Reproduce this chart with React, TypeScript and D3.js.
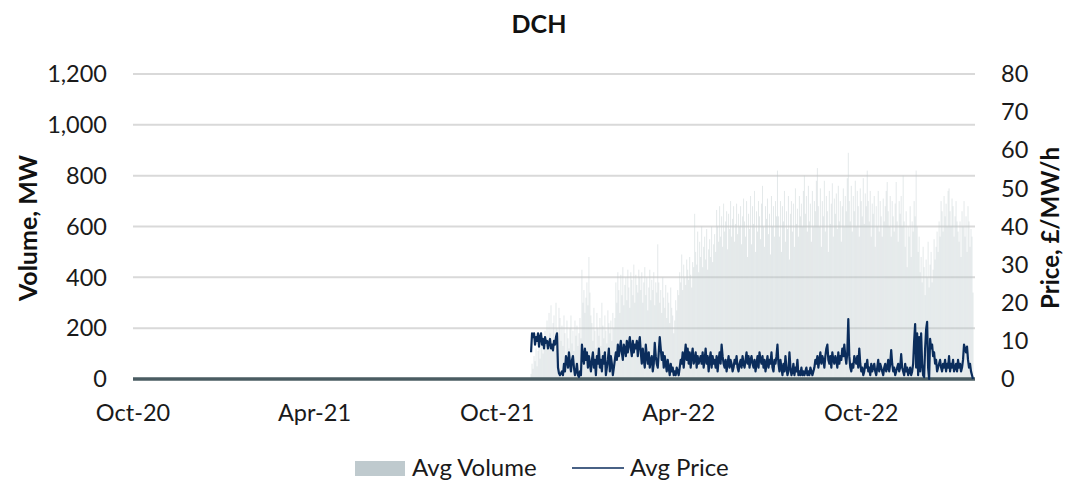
import React from "react";
import * as d3 from "d3";

const W = 1066;
const H = 482;

// daily series, first value is 4 Nov 2021
const seriesStart = new Date(2021, 10, 4);

const avgVolume = [
  20, 60, 40, 90, 70, 120, 50, 110, 150, 80, 130, 170, 100, 140, 190,
  160, 230, 120, 260, 180, 290, 140, 220, 250, 110, 300, 200, 170, 280, 240, 150,
  210, 130, 250, 180, 90, 230, 160, 120, 200, 250, 140, 190, 110, 230, 170, 210, 130, 180, 240, 160,
  430, 300, 350, 260, 320, 380, 290, 480, 340, 250,
  220, 150, 280, 190, 120, 260, 200, 170, 240, 130, 300, 210, 160, 250, 190, 140, 270, 220, 180, 230, 150, 260, 200, 240,
  380, 300, 420, 350, 260, 410, 330, 440, 290, 370, 400, 310, 430, 360, 280, 420, 390, 330, 450, 300, 410, 370, 340, 430, 400,
  350, 420, 300, 380, 440, 330, 400, 270, 360, 430, 310, 390, 350, 420, 290, 380, 340,
  530,
  380, 300, 350, 260, 400, 320, 280, 370, 240, 340, 300, 220, 360, 280, 250, 180, 230, 310, 270, 350, 330,
  420, 380, 490, 350, 450, 400, 370, 470, 430, 390, 480, 410, 360, 460, 440,
  650,
  500, 450, 580, 420, 540, 480, 600, 440, 520, 560, 470, 590, 430, 510, 550, 480, 600, 460, 530, 570, 500,
  665,
  600, 540, 680, 560, 640, 520, 690, 580, 620, 660, 510, 650, 590, 700, 560, 630, 680, 540, 610, 690, 570, 650, 600, 680, 530, 640, 710,
  620, 560, 700, 480, 650, 590, 720, 530, 680, 610, 740, 500, 660, 580, 700, 640, 550, 690, 760, 600, 520, 680, 630, 710, 570, 650, 490, 720, 600, 680, 560, 700, 640,
  820,
  640, 560, 700, 500, 680, 620, 740, 540, 660, 590, 720, 470, 650, 700, 580, 690, 520, 750, 610, 670, 560, 720, 640, 690, 600, 740,
  800,
  650, 720, 580, 760, 620, 690, 540, 740, 600, 700, 660, 780,
  830,
  680, 600, 750, 520, 700, 640, 780, 580, 720, 660, 500, 740, 610, 690, 770, 560, 710, 650, 730, 590, 760, 620, 700, 540, 680, 750, 600, 720, 660, 790,
  890,
  700, 620, 760, 580, 720, 660, 780, 600, 740, 680, 560, 750, 700, 640, 790, 610, 730, 680,
  820,
  700, 620, 740, 560, 690, 650, 720, 520, 680, 600, 740, 580, 700, 640, 560, 710, 620, 680, 740,
  775,
  660, 600, 720, 560, 700, 640, 580, 690, 775, 620, 540, 700, 650, 720, 600, 800,
  620, 520, 660, 440, 600, 560, 680, 480, 620, 580, 700, 640,
  820,
  600, 500, 560, 420, 480, 380, 520, 440, 330, 470, 400, 540, 360, 450, 500, 380, 430, 550, 470, 520, 580, 500,
  620, 560, 700, 660, 580, 720, 640, 690, 600, 740, 750, 660, 600, 710, 680, 560, 640, 700, 620, 580,
  540, 620, 480, 660, 600, 700, 560, 640, 500, 680, 620, 520, 590, 560, 340,
];

const avgPrice = [
  7, 12, 11, 12, 9, 11, 10, 12, 8.5, 11, 12, 9, 10.5, 8, 11, 9.5, 10, 8, 9.5, 10.5, 8, 9, 7.5, 10, 9, 11, 12,
  3, 1.5, 1, 1.5, 2, 1, 4, 2, 6, 5, 3, 7, 4, 2, 5, 6, 3, 1, 2, 4, 1, 0.5, 2, 1,
  9, 6, 4, 8, 5, 7, 3, 6, 4, 2, 5, 7, 3, 5, 1, 6, 4, 8, 3, 5, 2, 6, 4, 7, 1, 3, 5, 8, 2, 6, 4, 1, 3, 5,
  7, 5, 9, 6, 8, 10, 7, 5, 9, 8, 6, 10, 7, 9, 11, 8, 6, 10, 7, 9, 8, 10, 6, 9, 11,
  7, 4, 8, 5, 3, 9, 6, 4, 7, 3, 5, 6, 2, 4, 9.5, 6, 4, 3, 7, 11,
  8, 5, 7, 3, 6, 4, 2, 5, 3, 1, 4, 2, 3, 1, 2, 1, 3, 2, 1, 3,
  5, 4, 7, 3, 6, 9, 5, 8, 4, 7, 3, 6, 8, 4, 5, 7, 3, 6, 4, 5,
  6, 4, 7, 3, 5, 8, 4, 6, 2, 5, 7, 3, 6, 4, 5, 3, 6, 2, 5, 7, 4,
  9,
  6, 4, 3, 5, 2, 4, 6, 3, 5, 4, 2, 3, 5, 4, 6, 3, 2, 4, 5, 3, 6, 4, 3, 5, 7, 4, 6, 3, 5, 6, 4, 3, 5, 2, 4, 6, 3, 7, 5, 4, 6, 3, 5, 2, 4, 6, 3, 5, 4, 7, 3, 2, 5, 4, 6,
  9,
  4, 2, 5, 3, 1, 4, 2, 6, 3, 1, 2, 7, 3, 1, 2, 4, 1, 3, 2, 5, 1,
  2, 1, 3, 1, 2, 1, 2, 3, 1, 2, 1, 3, 2, 1, 2,
  3, 5, 4, 6, 3, 5, 7, 4, 6, 5, 3, 6, 8, 9, 5, 4, 6, 3, 7, 5, 4, 6, 5, 3, 7, 4, 6, 5, 8, 6,
  9, 6, 4, 7, 15.7,
  6, 3, 2, 4, 3, 6, 5, 4, 6, 3,
  8,
  4, 2, 3, 1, 2, 4, 3, 5, 2, 3, 1, 4, 2, 3, 4, 2, 1, 3, 5, 2, 4, 3, 2, 1, 3, 4, 2, 3, 5, 2, 4,
  7.6,
  4, 2, 3, 1, 2, 3, 4, 2, 3, 6.5,
  3, 2, 1, 4, 2, 3, 1, 2, 3, 1, 2, 4,
  10, 14.4, 3, 12, 1, 11, 2, 12, 4,
  1, 0.5, 8, 13,
  15,
  3, 0, 10.5, 8, 9, 6, 7, 4, 5, 2, 3, 4,
  5, 3, 2, 4, 3, 5, 2, 4, 3, 6, 2, 4, 3, 5, 2, 3, 4, 2, 5, 3, 4, 2, 3, 5,
  9, 8, 7, 8.5, 5, 3, 4, 2, 1, 0,
];

const volumeTicks = [0, 200, 400, 600, 800, 1000, 1200];
const priceTicks = [0, 10, 20, 30, 40, 50, 60, 70, 80];
const monthTicks = [
  new Date(2020, 9, 1),
  new Date(2021, 3, 1),
  new Date(2021, 9, 1),
  new Date(2022, 3, 1),
  new Date(2022, 9, 1),
];

const font = "Lato, 'Open Sans', sans-serif";
const barColor = "#bfcace";
const lineColor = "#0b2d5c";
const textColor = "#1a1a1a";

export default function App() {
  const days = avgVolume.map((_, i) => d3.timeDay.offset(seriesStart, i));

  const x = d3
    .scaleTime()
    .domain([new Date(2020, 9, 1), new Date(2023, 0, 23)])
    .range([133, 975]);
  const yVol = d3.scaleLinear().domain([0, 1200]).range([379, 74]);
  const yPrice = d3.scaleLinear().domain([0, 80]).range([379, 74]);

  const step = x(d3.timeDay.offset(seriesStart, 1)) - x(seriesStart);
  const fmt = d3.timeFormat("%b-%y");
  const commas = d3.format(",");

  const pricePath = d3
    .line<number>()
    .x((_, i) => x(days[i]))
    .y((d) => yPrice(d))(avgPrice.slice(0, days.length));

  const [x0, x1] = x.range();

  return (
    <svg
      width={W}
      height={H}
      style={{ position: "absolute", left: 0, top: 0, background: "#fff" }}
      fontFamily={font}
    >
      <text x={539} y={33} textAnchor="middle" fontSize={25} fontWeight="bold" fill="#111">
        DCH
      </text>

      {volumeTicks.slice(1).map((t) => (
        <line key={t} x1={x0} x2={x1} y1={yVol(t)} y2={yVol(t)} stroke="#d9d9d9" strokeWidth={2} />
      ))}

      <g fill={barColor} fillOpacity={0.42}>
        {avgVolume.map((v, i) => (
          <rect
            key={i}
            x={x(days[i]) - step / 2}
            y={yVol(v)}
            width={step}
            height={yVol(0) - yVol(v)}
          />
        ))}
      </g>

      <line x1={x0} x2={x1} y1={yVol(0)} y2={yVol(0)} stroke="#4a5c62" strokeWidth={3.5} />

      <path d={pricePath ?? ""} fill="none" stroke={lineColor} strokeWidth={2.2} strokeLinejoin="round" />

      {volumeTicks.map((t) => (
        <text key={t} x={107} y={yVol(t)} dy="0.35em" textAnchor="end" fontSize={23.5} fill={textColor}>
          {commas(t)}
        </text>
      ))}

      {priceTicks.map((t) => (
        <text key={t} x={1001} y={yPrice(t)} dy="0.35em" textAnchor="start" fontSize={23.5} fill={textColor}>
          {t}
        </text>
      ))}

      {monthTicks.map((d) => (
        <text key={d.getTime()} x={x(d)} y={421} textAnchor="middle" fontSize={23.5} fill={textColor}>
          {fmt(d)}
        </text>
      ))}

      <text
        transform="translate(28,228) rotate(-90)"
        dy="0.35em"
        textAnchor="middle"
        fontSize={25}
        fontWeight="bold"
        fill="#111"
      >
        Volume, MW
      </text>
      <text
        transform="translate(1051,228) rotate(-90)"
        dy="0.35em"
        textAnchor="middle"
        fontSize={24}
        fontWeight="bold"
        fill="#111"
      >
        Price, £/MW/h
      </text>

      <g>
        <rect x={355} y={461} width={50} height={15} fill={barColor} />
        <text x={412} y={476} fontSize={24} fill={textColor}>
          Avg Volume
        </text>
        <line x1={572} x2={624} y1={468} y2={468} stroke={lineColor} strokeWidth={1.5} />
        <text x={630} y={476} fontSize={24} fill={textColor}>
          Avg Price
        </text>
      </g>
    </svg>
  );
}
